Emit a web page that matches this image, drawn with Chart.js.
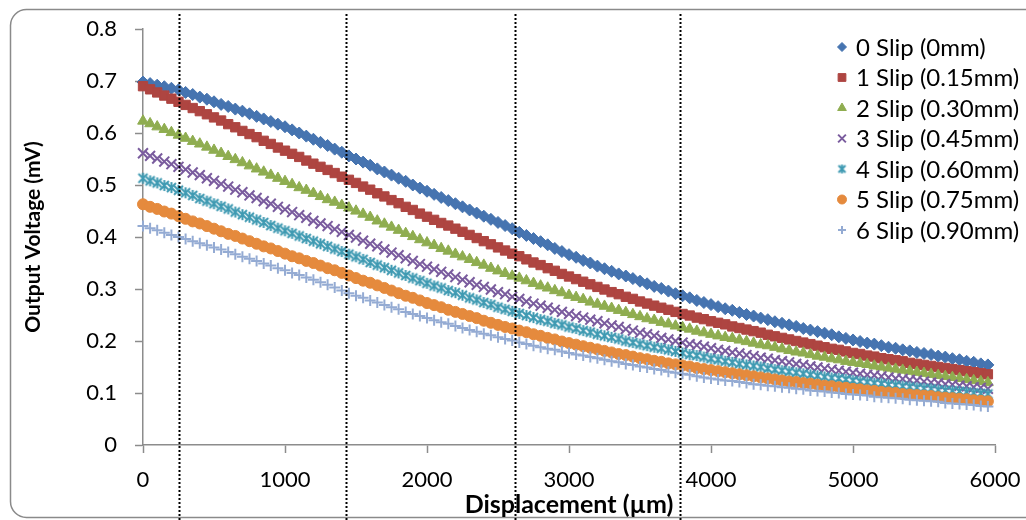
<!DOCTYPE html>
<html>
<head>
<meta charset="utf-8">
<script src="https://cdn.jsdelivr.net/npm/chart.js@4.4.1/dist/chart.umd.min.js"></script>
<style>
  body { margin: 0; background: #fff; }
  #wrap { width: 1026px; height: 520px; }
</style>
</head>
<body>
<div id="wrap"><canvas id="myChart" width="1026" height="520"></canvas></div>
<script>
const displacement = [
  0,50,100,150,200,250,300,350,400,450,
  500,550,600,650,700,750,800,850,900,950,
  1000,1050,1100,1150,1200,1250,1300,1350,1400,1450,
  1500,1550,1600,1650,1700,1750,1800,1850,1900,1950,
  2000,2050,2100,2150,2200,2250,2300,2350,2400,2450,
  2500,2550,2600,2650,2700,2750,2800,2850,2900,2950,
  3000,3050,3100,3150,3200,3250,3300,3350,3400,3450,
  3500,3550,3600,3650,3700,3750,3800,3850,3900,3950,
  4000,4050,4100,4150,4200,4250,4300,4350,4400,4450,
  4500,4550,4600,4650,4700,4750,4800,4850,4900,4950,
  5000,5050,5100,5150,5200,5250,5300,5350,5400,5450,
  5500,5550,5600,5650,5700,5750,5800,5850,5900,5950
];

const slip0 = [
  0.698,0.695,0.692,0.689,0.686,0.683,0.678,0.674,0.669,0.665,
  0.660,0.655,0.651,0.646,0.642,0.637,0.632,0.627,0.622,0.617,
  0.612,0.606,0.600,0.594,0.588,0.582,0.576,0.569,0.563,0.556,
  0.550,0.544,0.538,0.531,0.525,0.519,0.513,0.507,0.500,0.494,
  0.488,0.482,0.476,0.470,0.464,0.458,0.452,0.446,0.440,0.434,
  0.428,0.422,0.416,0.409,0.403,0.397,0.391,0.385,0.378,0.372,
  0.366,0.361,0.355,0.350,0.344,0.339,0.334,0.329,0.325,0.320,
  0.315,0.310,0.305,0.301,0.296,0.291,0.287,0.283,0.278,0.274,
  0.270,0.266,0.262,0.259,0.255,0.251,0.248,0.244,0.241,0.237,
  0.234,0.231,0.228,0.224,0.221,0.218,0.215,0.212,0.208,0.205,
  0.202,0.199,0.196,0.194,0.191,0.188,0.186,0.183,0.181,0.178,
  0.176,0.174,0.171,0.169,0.166,0.164,0.161,0.159,0.156,0.154
];
const slip1 = [
  0.690,0.684,0.678,0.672,0.666,0.660,0.654,0.648,0.642,0.636,
  0.630,0.624,0.617,0.611,0.604,0.598,0.592,0.585,0.579,0.572,
  0.566,0.560,0.554,0.547,0.541,0.535,0.529,0.523,0.516,0.510,
  0.504,0.497,0.491,0.484,0.478,0.471,0.465,0.458,0.452,0.445,
  0.439,0.433,0.427,0.422,0.416,0.410,0.404,0.398,0.392,0.386,
  0.380,0.374,0.368,0.363,0.357,0.351,0.346,0.340,0.335,0.329,
  0.324,0.319,0.314,0.309,0.304,0.299,0.294,0.290,0.285,0.281,
  0.276,0.272,0.268,0.264,0.260,0.256,0.252,0.249,0.245,0.242,
  0.238,0.235,0.232,0.228,0.225,0.222,0.219,0.216,0.212,0.209,
  0.206,0.203,0.200,0.197,0.194,0.191,0.188,0.185,0.183,0.180,
  0.177,0.175,0.172,0.170,0.167,0.165,0.163,0.161,0.158,0.156,
  0.154,0.152,0.150,0.148,0.146,0.144,0.142,0.140,0.138,0.136
];
const slip2 = [
  0.623,0.618,0.612,0.607,0.601,0.596,0.590,0.584,0.579,0.573,
  0.567,0.561,0.555,0.549,0.543,0.537,0.531,0.525,0.519,0.513,
  0.507,0.501,0.495,0.490,0.484,0.478,0.472,0.467,0.461,0.456,
  0.450,0.444,0.438,0.431,0.425,0.419,0.413,0.407,0.401,0.395,
  0.389,0.384,0.378,0.373,0.367,0.362,0.357,0.351,0.346,0.340,
  0.335,0.330,0.325,0.321,0.316,0.311,0.306,0.302,0.297,0.293,
  0.288,0.284,0.280,0.275,0.271,0.267,0.263,0.259,0.255,0.251,
  0.247,0.243,0.240,0.236,0.233,0.229,0.226,0.223,0.219,0.216,
  0.213,0.210,0.207,0.205,0.202,0.199,0.196,0.193,0.191,0.188,
  0.185,0.182,0.179,0.177,0.174,0.171,0.169,0.166,0.164,0.161,
  0.159,0.157,0.155,0.152,0.150,0.148,0.146,0.144,0.142,0.140,
  0.138,0.136,0.134,0.132,0.130,0.128,0.126,0.124,0.122,0.120
];
const slip3 = [
  0.561,0.556,0.551,0.545,0.540,0.535,0.530,0.524,0.519,0.513,
  0.508,0.502,0.497,0.491,0.486,0.480,0.475,0.469,0.464,0.458,
  0.453,0.448,0.442,0.437,0.431,0.426,0.421,0.415,0.410,0.404,
  0.399,0.393,0.387,0.382,0.376,0.370,0.365,0.359,0.354,0.348,
  0.343,0.338,0.333,0.328,0.323,0.318,0.313,0.308,0.304,0.299,
  0.294,0.290,0.285,0.281,0.276,0.272,0.268,0.264,0.260,0.256,
  0.252,0.248,0.245,0.241,0.238,0.234,0.230,0.227,0.223,0.220,
  0.216,0.213,0.210,0.206,0.203,0.200,0.197,0.194,0.192,0.189,
  0.186,0.183,0.181,0.178,0.176,0.173,0.171,0.168,0.166,0.163,
  0.161,0.159,0.156,0.154,0.151,0.149,0.147,0.145,0.143,0.141,
  0.139,0.137,0.135,0.134,0.132,0.130,0.128,0.127,0.125,0.124,
  0.122,0.120,0.119,0.117,0.116,0.114,0.113,0.111,0.110,0.108
];
const slip4 = [
  0.513,0.508,0.504,0.499,0.495,0.490,0.485,0.480,0.474,0.469,
  0.464,0.459,0.454,0.448,0.443,0.438,0.433,0.428,0.422,0.417,
  0.412,0.407,0.402,0.397,0.392,0.387,0.382,0.377,0.372,0.367,
  0.362,0.357,0.351,0.346,0.341,0.336,0.331,0.326,0.321,0.316,
  0.311,0.306,0.302,0.297,0.293,0.288,0.283,0.279,0.274,0.270,
  0.265,0.261,0.257,0.253,0.249,0.245,0.241,0.238,0.234,0.231,
  0.227,0.224,0.220,0.217,0.213,0.210,0.207,0.204,0.200,0.197,
  0.194,0.191,0.188,0.186,0.183,0.180,0.177,0.174,0.172,0.169,
  0.166,0.164,0.161,0.159,0.156,0.154,0.152,0.150,0.147,0.145,
  0.143,0.141,0.139,0.137,0.135,0.133,0.131,0.129,0.128,0.126,
  0.124,0.122,0.121,0.119,0.118,0.116,0.115,0.113,0.112,0.110,
  0.109,0.108,0.106,0.105,0.104,0.103,0.102,0.100,0.099,0.098
];
const slip5 = [
  0.463,0.458,0.454,0.449,0.445,0.440,0.435,0.430,0.426,0.421,
  0.416,0.411,0.406,0.402,0.397,0.392,0.387,0.382,0.378,0.373,
  0.368,0.363,0.359,0.354,0.350,0.345,0.340,0.336,0.331,0.326,
  0.321,0.316,0.312,0.307,0.302,0.297,0.292,0.287,0.283,0.278,
  0.273,0.269,0.265,0.260,0.256,0.252,0.248,0.244,0.239,0.235,
  0.231,0.227,0.224,0.220,0.217,0.213,0.210,0.206,0.203,0.199,
  0.196,0.193,0.190,0.187,0.184,0.181,0.178,0.175,0.173,0.170,
  0.167,0.165,0.162,0.160,0.157,0.155,0.153,0.151,0.148,0.146,
  0.144,0.142,0.140,0.138,0.136,0.134,0.132,0.130,0.128,0.126,
  0.124,0.122,0.121,0.119,0.118,0.116,0.114,0.113,0.111,0.110,
  0.108,0.107,0.105,0.104,0.102,0.101,0.100,0.098,0.097,0.096,
  0.095,0.094,0.092,0.091,0.090,0.089,0.088,0.086,0.085,0.084
];
const slip6 = [
  0.421,0.417,0.413,0.408,0.404,0.400,0.396,0.392,0.388,0.384,
  0.380,0.376,0.371,0.367,0.362,0.358,0.354,0.349,0.345,0.340,
  0.336,0.331,0.327,0.322,0.318,0.313,0.308,0.303,0.297,0.292,
  0.287,0.283,0.278,0.274,0.269,0.265,0.261,0.256,0.252,0.248,
  0.244,0.240,0.236,0.233,0.229,0.225,0.221,0.218,0.214,0.211,
  0.207,0.204,0.201,0.197,0.194,0.191,0.188,0.185,0.183,0.180,
  0.177,0.174,0.172,0.169,0.167,0.164,0.161,0.159,0.156,0.154,
  0.151,0.149,0.146,0.144,0.141,0.139,0.137,0.135,0.132,0.130,
  0.128,0.126,0.124,0.123,0.121,0.119,0.117,0.116,0.114,0.113,
  0.111,0.110,0.108,0.107,0.105,0.104,0.103,0.101,0.100,0.098,
  0.097,0.096,0.095,0.093,0.092,0.091,0.090,0.089,0.087,0.086,
  0.085,0.084,0.083,0.081,0.080,0.079,0.078,0.077,0.075,0.074
];

const seriesLabels = [
  '0 Slip (0mm)',
  '1 Slip (0.15mm)',
  '2 Slip (0.30mm)',
  '3 Slip (0.45mm)',
  '4 Slip (0.60mm)',
  '5 Slip (0.75mm)',
  '6 Slip (0.90mm)',
];
const seriesValues = [slip0, slip1, slip2, slip3, slip4, slip5, slip6];

// dotted reference lines (µm)
const markerLines = [250, 1430, 2620, 3780];

const colors = ['#4674B0', '#AE4541', '#8FAD50', '#7A5C9E', '#3F9AB2', '#E58A3D', '#94ABD3'];

// excel style "star" marker: an x with a vertical bar
function starMarker(color, s) {
  const c = document.createElement('canvas');
  c.width = s; c.height = s;
  const g = c.getContext('2d');
  g.strokeStyle = color;
  g.lineWidth = 2;
  const m = s / 2, r = s / 2 - 2;
  g.beginPath();
  g.moveTo(m - r, m - r); g.lineTo(m + r, m + r);
  g.moveTo(m + r, m - r); g.lineTo(m - r, m + r);
  g.moveTo(m, m - r - 1); g.lineTo(m, m + r + 1);
  g.stroke();
  return c;
}

const styles = [
  { pointStyle: 'rectRot', radius: 6, borderWidth: 1 },
  { pointStyle: 'rect', radius: 6.6, borderWidth: 1 },
  { pointStyle: 'triangle', radius: 6.2, borderWidth: 1 },
  { pointStyle: 'crossRot', radius: 7, borderWidth: 2 },
  { pointStyle: starMarker(colors[4], 13), radius: 6.5, borderWidth: 2 },
  { pointStyle: 'circle', radius: 5.5, borderWidth: 1 },
  { pointStyle: 'cross', radius: 5.5, borderWidth: 2 },
];
const legendStyles = [
  { pointStyle: 'rectRot', radius: 4.5, borderWidth: 1 },
  { pointStyle: 'rect', radius: 5.5, borderWidth: 1 },
  { pointStyle: 'triangle', radius: 5, borderWidth: 1 },
  { pointStyle: 'crossRot', radius: 5.5, borderWidth: 2 },
  { pointStyle: starMarker(colors[4], 11), radius: 5, borderWidth: 2 },
  { pointStyle: 'circle', radius: 4.5, borderWidth: 1 },
  { pointStyle: 'cross', radius: 4, borderWidth: 2 },
];

const datasets = seriesValues.map((vals, i) => ({
  label: seriesLabels[i],
  data: vals.map((v, j) => ({ x: displacement[j], y: v })),
  showLine: false,
  pointStyle: styles[i].pointStyle,
  pointRadius: styles[i].radius,
  pointHoverRadius: styles[i].radius,
  pointBorderWidth: styles[i].borderWidth,
  backgroundColor: colors[i],
  borderColor: colors[i],
  order: seriesValues.length - i,
  clip: false,
}));

const FONT = 'Lato, "Open Sans", sans-serif';

const framePlugin = {
  id: 'frame',
  beforeDraw(chart) {
    const c = chart.ctx;
    c.save();
    c.fillStyle = '#fff';
    c.fillRect(0, 0, chart.width, chart.height);
    const x0 = 10.5, y0 = 9.5, x1 = 1050, y1 = 517.5, r = 16;
    c.strokeStyle = '#8a8a8a';
    c.lineWidth = 1.5;
    c.beginPath();
    c.moveTo(x0 + r, y0);
    c.lineTo(x1 - r, y0);
    c.arcTo(x1, y0, x1, y0 + r, r);
    c.lineTo(x1, y1 - r);
    c.arcTo(x1, y1, x1 - r, y1, r);
    c.lineTo(x0 + r, y1);
    c.arcTo(x0, y1, x0, y1 - r, r);
    c.lineTo(x0, y0 + r);
    c.arcTo(x0, y0, x0 + r, y0, r);
    c.stroke();
    c.restore();
  },
  afterDraw(chart) {
    const c = chart.ctx;
    const xs = chart.scales.x;
    c.save();
    // dotted lines
    c.strokeStyle = '#000';
    c.lineWidth = 2;
    c.setLineDash([2, 2]);
    markerLines.forEach(v => {
      const px = Math.round(xs.getPixelForValue(v)) + 0.5;
      c.beginPath();
      c.moveTo(px, 14);
      c.lineTo(px, chart.height);
      c.stroke();
    });
    c.setLineDash([]);
    // legend
    const lx = 842, ty = 47, step = 30.5;
    c.font = '24px ' + FONT;
    c.textBaseline = 'middle';
    c.textAlign = 'left';
    seriesLabels.forEach((lab, i) => {
      const y = ty + i * step;
      c.fillStyle = colors[i];
      c.strokeStyle = colors[i];
      c.lineWidth = legendStyles[i].borderWidth;
      Chart.helpers.drawPoint(c, {
        pointStyle: legendStyles[i].pointStyle,
        radius: legendStyles[i].radius,
        borderWidth: legendStyles[i].borderWidth,
        rotation: 0,
      }, lx, y);
      c.fillStyle = '#000';
      c.fillText(lab, lx + 14, y + 1);
    });
    c.restore();
  }
};

const ctx = document.querySelector('#myChart').getContext('2d');

const config = {
  type: 'scatter',
  data: { datasets },
  options: {
    responsive: false,
    animation: false,
    layout: { padding: { top: 29, right: 31, left: 0, bottom: 0 } },
    plugins: {
      legend: { display: false },
      tooltip: { enabled: false },
    },
    scales: {
      x: {
        type: 'linear',
        min: 0,
        max: 6000,
        ticks: {
          stepSize: 1000,
          color: '#000',
          padding: 14,
          font: { family: FONT, size: 22 },
          maxRotation: 0,
          callback: v => String(v),
        },
        grid: {
          display: true,
          drawOnChartArea: false,
          drawTicks: true,
          tickLength: 8,
          tickColor: '#8c8c8c',
          tickWidth: 1.5,
        },
        border: { display: true, color: '#8c8c8c', width: 1.5 },
        title: {
          display: true,
          text: 'Displacement (µm)',
          color: '#000',
          font: { family: FONT, size: 25, weight: 'bold' },
          padding: { top: 0, bottom: 0 },
        },
        afterFit(s) { s.height = 75; s.paddingLeft = 0; s.paddingRight = 0; },
      },
      y: {
        min: 0,
        max: 0.8,
        ticks: {
          stepSize: 0.1,
          color: '#000',
          padding: 18,
          font: { family: FONT, size: 22 },
          callback: v => String(+v.toFixed(1)),
        },
        grid: {
          display: true,
          drawOnChartArea: false,
          drawTicks: true,
          tickLength: 8,
          tickColor: '#8c8c8c',
          tickWidth: 1.5,
        },
        border: { display: true, color: '#8c8c8c', width: 1.5 },
        title: {
          display: true,
          text: 'Output Voltage (mV)',
          color: '#000',
          font: { family: FONT, size: 21, weight: 'bold' },
          padding: { top: 21, bottom: 0 },
        },
        afterFit(s) { s.width = 143; s.paddingTop = 0; s.paddingBottom = 0; },
      },
    },
  },
  plugins: [framePlugin],
};

const myChart = new Chart(ctx, config);
</script>
</body>
</html>
